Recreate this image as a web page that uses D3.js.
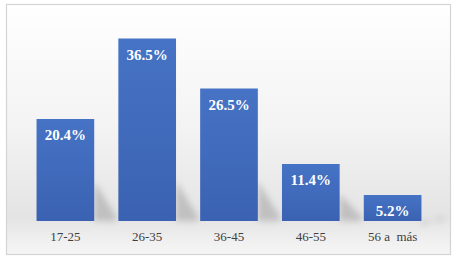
<!DOCTYPE html>
<html>
<head>
<meta charset="utf-8">
<script src="https://cdn.jsdelivr.net/npm/d3@7"></script>
<style>
  body { margin: 0; background: #fff; }
  .serif { font-family: "Liberation Serif", "Times New Roman", "DejaVu Serif", serif; }
</style>
</head>
<body>
<svg id="chart" width="457" height="259"></svg>
<script>
const categories = ["17-25", "26-35", "36-45", "46-55", "56 a  más"];
const values = [20.4, 36.5, 26.5, 11.4, 5.2];
const labels = ["20.4%", "36.5%", "26.5%", "11.4%", "5.2%"];

const svg = d3.select("#chart");
const frame = { x: 6.5, y: 4.5, w: 444, h: 250 };

const defs = svg.append("defs");
const bg = defs.append("linearGradient").attr("id", "bg")
  .attr("x1", 0).attr("y1", 0).attr("x2", 0).attr("y2", 1);
bg.append("stop").attr("offset", "0%").attr("stop-color", "#ffffff");
bg.append("stop").attr("offset", "50%").attr("stop-color", "#f3f3f3");
bg.append("stop").attr("offset", "85%").attr("stop-color", "#e4e4e4");
bg.append("stop").attr("offset", "100%").attr("stop-color", "#f6f6f6");

const barGrad = defs.append("linearGradient").attr("id", "barGrad")
  .attr("x1", 0).attr("y1", 0).attr("x2", 0).attr("y2", 1);
barGrad.append("stop").attr("offset", "0%").attr("stop-color", "#4673c5");
barGrad.append("stop").attr("offset", "100%").attr("stop-color", "#3b62b2");

defs.append("filter").attr("id", "blur")
  .append("feGaussianBlur").attr("stdDeviation", 3);

// frame
svg.append("rect")
  .attr("x", frame.x).attr("y", frame.y)
  .attr("width", frame.w).attr("height", frame.h)
  .attr("fill", "url(#bg)")
  .attr("stroke", "#d4d4d4").attr("stroke-width", 1.2);

const x = d3.scaleBand()
  .domain(categories)
  .range([12, 446])
  .paddingInner(0.295)
  .paddingOuter(0.3);

const y = d3.scaleLinear().domain([0, 40]).range([221, 21]);

// soft shadow behind bars
svg.append("g").attr("filter", "url(#blur)")
  .selectAll("path")
  .data(values)
  .join("path")
  .attr("d", (d, i) => {
    const x0 = x(categories[i]) + x.bandwidth();
    const top = Math.max(y(d) + 30, y(0) - 40);
    return `M${x0},${top}L${x0 + 22},${y(0) - 4}L${x0 + 22},${y(0)}L${x0},${y(0)}Z`;
  })
  .attr("fill", "#b0b0b0")
  .attr("opacity", 0.7);

svg.append("g")
  .selectAll("rect")
  .data(values)
  .join("rect")
  .attr("x", (d, i) => x(categories[i]))
  .attr("y", d => y(d))
  .attr("width", x.bandwidth())
  .attr("height", d => y(0) - y(d))
  .attr("fill", "url(#barGrad)");

svg.append("g")
  .selectAll("text")
  .data(values)
  .join("text")
  .attr("class", "serif")
  .attr("x", (d, i) => x(categories[i]) + x.bandwidth() / 2)
  .attr("y", d => y(d) + 21)
  .attr("text-anchor", "middle")
  .style("font-weight", "bold")
  .style("font-size", "15px")
  .attr("fill", "#ffffff")
  .text((d, i) => labels[i]);

const axis = svg.append("g")
  .attr("transform", `translate(0,${y(0)})`)
  .call(d3.axisBottom(x).tickSize(0).tickPadding(11));
axis.select(".domain").remove();
axis.attr("font-family", null).attr("font-size", null);
axis.selectAll("text")
  .attr("class", "serif")
  .style("font-size", "13px")
  .attr("fill", "#404040")
  .style("white-space", "pre");
</script>
</body>
</html>
